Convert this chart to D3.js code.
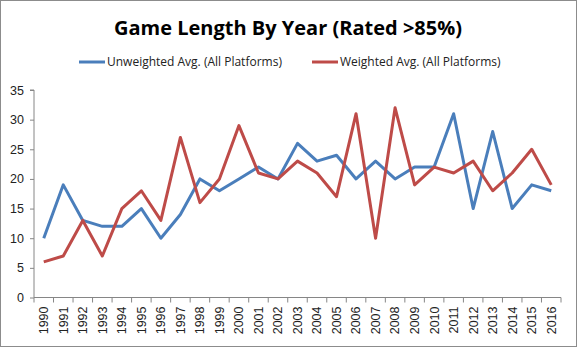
<!DOCTYPE html>
<html>
<head>
<meta charset="utf-8">
<script src="https://cdn.jsdelivr.net/npm/d3@7"></script>
<style>
  body { margin: 0; background: #fff; }
  svg { display: block; }
</style>
</head>
<body>
<svg id="chart"></svg>
<script>
const years = ['1990','1991','1992','1993','1994','1995','1996','1997','1998','1999','2000','2001','2002','2003','2004','2005','2006','2007','2008','2009','2010','2011','2012','2013','2014','2015','2016'];
const unweighted = [10,19,13,12,12,15,10,14,20,18,20,22,20,26,23,24,20,23,20,22,22,31,15,28,15,19,18];
const weighted = [6,7,13,7,15,18,13,27,16,20,29,21,20,23,21,17,31,10,32,19,22,21,23,18,21,25,19];
const yTicks = [0,5,10,15,20,25,30,35];
const seriesNames = ['Unweighted Avg. (All Platforms)', 'Weighted Avg. (All Platforms)'];

const w = 577, h = 347;
const plotLeft = 34, plotRight = 561, plotTop = 90, plotBottom = 297.5;
const axisColor = '#868686';
const colors = ['#4a7ebb', '#be4b48'];

const svg = d3.select('#chart')
  .attr('width', w)
  .attr('height', h);

// outer border
svg.append('rect')
  .attr('x', 0.5).attr('y', 0.5)
  .attr('width', w - 1).attr('height', h - 1)
  .attr('fill', '#fff')
  .attr('stroke', '#8c8c8c');

svg.append('text')
  .attr('x', 288).attr('y', 35)
  .attr('text-anchor', 'middle')
  .style('font-family', 'Open Sans, sans-serif')
  .style('font-weight', 'bold')
  .style('font-size', '20px')
  .text('Game Length By Year (Rated >85%)');

const xScale = d3.scaleBand()
  .domain(years)
  .range([plotLeft, plotRight]);

const yScale = d3.scaleLinear()
  .domain([0, 35])
  .range([plotBottom, plotTop]);

// y axis
const yAxis = d3.axisLeft(yScale)
  .tickValues(yTicks)
  .tickSize(4)
  .tickPadding(6);

const gy = svg.append('g')
  .attr('transform', `translate(${plotLeft},0)`)
  .call(yAxis);
gy.select('.domain').attr('stroke', axisColor).attr('d', `M-4,${plotTop}H0V${plotBottom}`);
gy.selectAll('.tick line').attr('stroke', axisColor);
gy.selectAll('.tick text')
  .attr('fill', '#222')
  .style('font-family', 'Liberation Sans, Arial, sans-serif')
  .style('font-size', '12.5px');

// x axis: labels at category centres, ticks between categories
const xAxis = d3.axisBottom(xScale)
  .tickSize(0);

const gx = svg.append('g')
  .attr('transform', `translate(0,${plotBottom})`)
  .call(xAxis);
gx.select('.domain').attr('stroke', axisColor).attr('d', `M${plotLeft},0H${plotRight}`);
gx.selectAll('.tick text')
  .attr('fill', '#222')
  .attr('transform', 'rotate(-90)')
  .attr('text-anchor', 'end')
  .attr('x', -9)
  .attr('y', 0)
  .attr('dy', '0.35em')
  .style('font-family', 'Liberation Sans, Arial, sans-serif')
  .style('font-size', '12.5px');

gx.selectAll('.edge')
  .data(d3.range(years.length + 1))
  .join('line')
  .attr('x1', i => plotLeft + i * xScale.step())
  .attr('x2', i => plotLeft + i * xScale.step())
  .attr('y1', 0)
  .attr('y2', 5)
  .attr('stroke', axisColor);

const line = d3.line()
  .x((d, i) => xScale(years[i]) + xScale.bandwidth() / 2)
  .y(d => yScale(d));

svg.selectAll('.series')
  .data([unweighted, weighted])
  .join('path')
  .attr('d', d => line(d))
  .attr('fill', 'none')
  .attr('stroke', (d, i) => colors[i])
  .attr('stroke-width', 3)
  .attr('stroke-linejoin', 'round');

// legend
const legendX = [79, 312];
const legend = svg.selectAll('.legend')
  .data(seriesNames)
  .join('g')
  .attr('transform', (d, i) => `translate(${legendX[i]},62)`);
legend.append('line')
  .attr('x1', 0).attr('x2', 26)
  .attr('stroke', (d, i) => colors[i])
  .attr('stroke-width', 3);
legend.append('text')
  .attr('x', 28)
  .attr('dy', '0.35em')
  .attr('fill', '#222')
  .style('font-family', 'Open Sans, sans-serif')
  .style('font-size', '12px')
  .text(d => d);
</script>
</body>
</html>
